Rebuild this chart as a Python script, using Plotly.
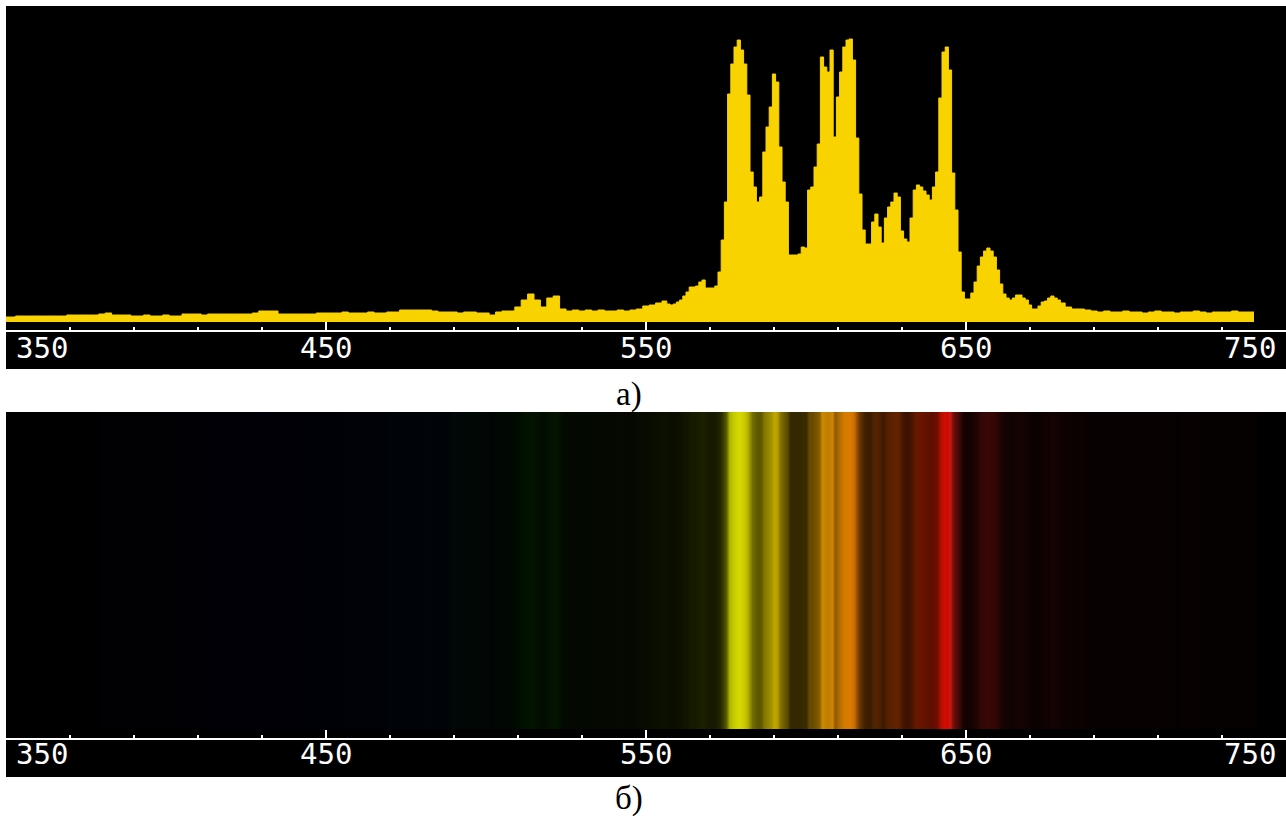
import plotly.graph_objects as go

# ---------------- data ----------------
# wavelength grid (nm): 2 nm steps in the quiet parts, 1 nm through the emission bands
WL_SEG1 = list(range(350, 556, 2))   # 350 .. 554
WL_SEG2 = list(range(556, 681, 1))   # 556 .. 680
WL_SEG3 = list(range(682, 741, 2))   # 682 .. 740

INT_SEG1 = [
    5, 5, 6, 6, 6, 6, 6, 6, 6, 6,            # 350-368
    7, 7, 7, 7, 7, 8, 9, 7, 7, 7,            # 370-388
    6, 6, 7, 6, 6, 7, 6, 6, 8, 8,            # 390-408
    8, 7, 8, 8, 8, 8, 8, 8, 8, 9,            # 410-428
    11, 11, 11, 8, 8, 8, 8, 8, 8, 9,         # 430-448
    9, 9, 9, 10, 9, 9, 9, 10, 9, 9,          # 450-468
    10, 10, 12, 12, 12, 12, 12, 11, 10, 10,  # 470-488
    10, 9, 10, 10, 9, 9, 7, 10, 11, 11,      # 490-508
    15, 22, 28, 22, 15, 24, 26, 13, 11, 12,  # 510-528
    11, 12, 11, 12, 11, 11, 12, 11, 12, 13,  # 530-548
    16, 17, 19,                              # 550-554
]
INT_SEG2 = [
    21, 18, 17, 18, 20, 22, 26, 30, 35, 35,            # 556-565
    36, 40, 42, 34, 34, 34, 36, 50, 82, 120,           # 566-575
    228, 258, 275, 282, 272, 258, 227, 150, 135, 120,  # 576-585
    125, 170, 195, 215, 248, 240, 175, 140, 120, 67,   # 586-595
    67, 67, 68, 75, 74, 132, 135, 155, 178, 265,       # 596-605
    255, 250, 272, 185, 225, 250, 275, 282, 283, 262,  # 606-615
    184, 128, 92, 78, 78, 100, 108, 95, 79, 104,       # 616-625
    115, 120, 129, 125, 91, 83, 80, 104, 132, 137,     # 626-635
    135, 131, 127, 122, 135, 150, 224, 270, 275, 252,  # 636-645
    149, 112, 70, 30, 23, 23, 29, 40, 56, 65,          # 646-655
    71, 74, 71, 65, 52, 38, 28, 24, 22, 24,            # 656-665
    27, 27, 24, 22, 17, 13, 13, 16, 20, 21,            # 666-675
    24, 26, 24, 22, 19,                                # 676-680
]
INT_SEG3 = [
    15, 13, 13, 12, 11, 10, 11, 10, 10, 11,  # 682-700
    10, 10, 9, 10, 11, 10, 10, 9, 10, 10,    # 702-720
    11, 10, 9, 10, 10, 10, 11, 10, 10, 10,   # 722-740
]

WAVELENGTHS = WL_SEG1 + WL_SEG2 + WL_SEG3
INTENSITY = INT_SEG1 + INT_SEG2 + INT_SEG3

TICK_VALUES = [350, 450, 550, 650, 750]
TICK_LABELS = ["350", "450", "550", "650", "750"]
CAPTIONS = ["а)", "б)"]

# ---------------- styling ----------------
W, H = 1286, 816
YELLOW = "#F9D300"
LABEL_FONT = dict(family="DejaVu Sans Mono", size=29, color="white")
CAPTION_FONT = dict(family="Liberation Serif", size=33, color="black")


def py(pix):
    """pixel row -> paper fraction"""
    return (H - pix) / H


def wl_to_rgb(w):
    if w < 380:
        r, g, b = 0.0, 0.0, 0.0
    elif w < 440:
        r, g, b = -0.4 * (w - 440) / 60.0, 0.0, 1.0
    elif w < 490:
        r, g, b = 0.0, 0.5 * (w - 440) / 50.0, 1.0
    elif w < 510:
        r, g, b = 0.0, 1.0, -(w - 510) / 20.0
    elif w < 580:
        r, g, b = (w - 510) / 70.0, 1.0, 0.0
    elif w < 645:
        r, g, b = 1.0, -(w - 645) / 65.0, 0.0
    else:
        r, g, b = 1.0, 0.08, 0.05
    if 380 <= w < 420:
        f = 0.3 + 0.7 * (w - 380) / 40.0
    elif w > 700:
        f = 0.3 + 0.7 * (780 - w) / 80.0
    else:
        f = 1.0
    return [(c * f) ** 0.8 if c > 0 else 0.0 for c in (r, g, b)]


imax = max(INTENSITY)
n = len(WAVELENGTHS)
strip_colors = []
for w, v in zip(WAVELENGTHS, INTENSITY):
    k = 0.85 * v / imax
    r, g, b = wl_to_rgb(w)
    strip_colors.append("rgb(%d,%d,%d)" % (round(255 * r * k), round(255 * g * k), round(255 * b * k)))
colorscale = [[i / (n - 1), c] for i, c in enumerate(strip_colors)]
idx = list(range(n))

fig = go.Figure()
fig.add_trace(go.Scatter(
    x=WAVELENGTHS, y=INTENSITY, mode="lines",
    line=dict(color=YELLOW, width=1, shape="hvh"),
    fill="tozeroy", fillcolor=YELLOW,
    xaxis="x", yaxis="y", hoverinfo="skip", showlegend=False,
))
fig.add_trace(go.Heatmap(
    x=WAVELENGTHS, y=[0, 0.5, 1], z=[idx, idx],
    colorscale=colorscale, zmin=0, zmax=n - 1, zsmooth="best",
    showscale=False, xaxis="x2", yaxis="y2", hoverinfo="skip",
))

x_dom = [6 / W, 1.0]
common_x = dict(
    range=[350, 750], showgrid=False, zeroline=False,
    showline=True, linecolor="white", linewidth=2,
    ticks="inside", tickmode="array", tickvals=TICK_VALUES,
    ticklen=8, tickwidth=1.5, tickcolor="white", showticklabels=False,
    minor=dict(dtick=20, tick0=350, ticks="inside", ticklen=3,
               tickwidth=1.5, tickcolor="white", showgrid=False),
    fixedrange=True,
)

fig.update_layout(
    width=W, height=H,
    margin=dict(l=0, r=0, t=0, b=0),
    paper_bgcolor="white", plot_bgcolor="black",
    showlegend=False,
    xaxis=dict(domain=x_dom, anchor="y", **common_x),
    yaxis=dict(domain=[py(330), py(6)], range=[-8, 316], visible=False),
    xaxis2=dict(domain=x_dom, anchor="y2", **common_x),
    yaxis2=dict(domain=[py(738), py(412)], range=[-9 / 317, 1], visible=False),
    shapes=[
        dict(type="rect", xref="paper", yref="paper", x0=6 / W, x1=1,
             y0=py(369), y1=py(6), fillcolor="black", line_width=0, layer="below"),
        dict(type="rect", xref="paper", yref="paper", x0=6 / W, x1=1,
             y0=py(777), y1=py(412), fillcolor="black", line_width=0, layer="below"),
    ],
)

annotations = []
for axis, ycen in (("x", 347.5), ("x2", 754)):
    for i, (tv, tl) in enumerate(zip(TICK_VALUES, TICK_LABELS)):
        if i == 0:
            anchor, shift = "left", 8
        elif i == len(TICK_VALUES) - 1:
            anchor, shift = "right", -8
        else:
            anchor, shift = "center", 0
        annotations.append(dict(
            x=tv, y=py(ycen), xref=axis, yref="paper", text=tl,
            showarrow=False, xanchor=anchor, yanchor="middle", xshift=shift,
            font=LABEL_FONT,
        ))
annotations.append(dict(x=629 / W, y=py(395), xref="paper", yref="paper",
                        text=CAPTIONS[0], showarrow=False, xanchor="center",
                        yanchor="middle", font=CAPTION_FONT))
annotations.append(dict(x=629 / W, y=py(798), xref="paper", yref="paper",
                        text=CAPTIONS[1], showarrow=False, xanchor="center",
                        yanchor="middle", font=CAPTION_FONT))
fig.update_layout(annotations=annotations)

fig.write_html(
    "out.html",
    config={"displayModeBar": False},
    post_script="document.body.style.margin='0';document.body.style.overflow='hidden';",
)
